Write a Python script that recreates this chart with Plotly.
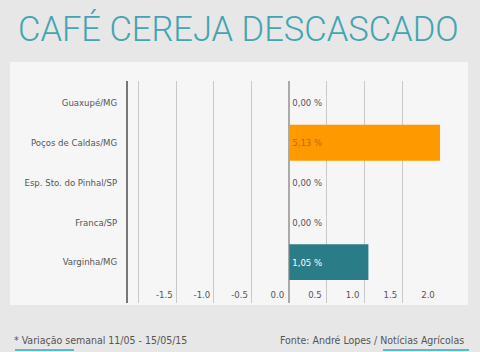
import plotly.graph_objects as go

cities = ["Guaxupé/MG", "Poços de Caldas/MG", "Esp. Sto. do Pinhal/SP", "Franca/SP", "Varginha/MG"]
values = [0.00, 5.13, 0.00, 0.00, 1.05]
labels = ["0,00 %", "5,13 %", "0,00 %", "0,00 %", "1,05 %"]
bar_colors = ["#ff9900", "#ff9900", "#ff9900", "#ff9900", "#2a7d87"]
text_colors = ["#555555", "#b86e10", "#555555", "#555555", "#ffffff"]
text_pos = ["outside", "inside", "outside", "outside", "inside"]
tick_vals = [-2.0, -1.5, -1.0, -0.5, 0.0, 0.5, 1.0, 1.5, 2.0]
tick_text = ["", "-1.5", "-1.0", "-0.5", "0.0", "0.5", "1.0", "1.5", "2.0"]

FONT = "DejaVu Sans Condensed, DejaVu Sans, sans-serif"

fig = go.Figure()
fig.add_trace(go.Bar(
    x=values, y=cities, orientation="h",
    marker=dict(color=bar_colors, line=dict(width=0)),
    width=0.9,
    text=labels, textposition=text_pos, insidetextanchor="start",
    textfont=dict(color=text_colors, size=9.5, family=FONT),
    outsidetextfont=dict(color=text_colors, size=9.5, family=FONT),
    insidetextfont=dict(color=text_colors, size=9.5, family=FONT),
    constraintext="none", cliponaxis=True, hoverinfo="skip",
))

fig.update_layout(
    width=480, height=352,
    margin=dict(l=128, r=40, t=81, b=49),
    paper_bgcolor="#e7e7e7",
    plot_bgcolor="rgba(0,0,0,0)",
    showlegend=False,
    font=dict(family=FONT, size=9.5, color="#555555"),
    xaxis=dict(
        range=[-2.14, 2.0], tickvals=tick_vals, ticktext=tick_text,
        showgrid=True, gridcolor="#c9c9c9", gridwidth=1,
        zeroline=True, zerolinecolor="#aaaaaa", zerolinewidth=2,
        ticklabelposition="inside", ticklabelshift=-12, ticks="",
        tickfont=dict(size=9.5, color="#555555", family=FONT),
        showline=False, fixedrange=True,
    ),
    yaxis=dict(
        type="category", categoryorder="array", categoryarray=cities,
        range=[5.03, -0.553], showgrid=False, zeroline=False,
        showline=True, linecolor="#777777", linewidth=2,
        ticks="", ticklabelstandoff=7,
        tickfont=dict(size=9.5, color="#555555", family=FONT),
        fixedrange=True,
    ),
    shapes=[
        dict(type="rect", xref="paper", yref="paper", layer="below",
             x0=(10 - 128) / 312, x1=(468 - 128) / 312,
             y0=(352 - 49 - 305) / 222, y1=(352 - 49 - 62) / 222,
             fillcolor="#f6f6f6", line=dict(width=0)),
        dict(type="rect", xref="paper", yref="paper", layer="above",
             x0=(15 - 128) / 312, x1=(74 - 128) / 312,
             y0=(303 - 351) / 222, y1=(303 - 349) / 222,
             fillcolor="#5fb8c2", line=dict(width=0)),
        dict(type="rect", xref="paper", yref="paper", layer="above",
             x0=(383 - 128) / 312, x1=(469 - 128) / 312,
             y0=(303 - 351) / 222, y1=(303 - 349) / 222,
             fillcolor="#5fb8c2", line=dict(width=0)),
    ],
    annotations=[
        dict(text="CAFÉ CEREJA DESCASCADO", xref="paper", yref="paper",
             x=(238 - 128) / 312, y=(303 - 29) / 222, xanchor="center", yanchor="middle",
             showarrow=False, font=dict(family="Roboto, sans-serif", weight=300,
                                        size=34.5, color="#42a5b1")),
        dict(text="* Variação semanal 11/05 - 15/05/15", xref="paper", yref="paper",
             x=(12 - 128) / 312, y=(303 - 340) / 222, xanchor="left", yanchor="middle",
             showarrow=False, font=dict(family=FONT, size=10.5, color="#555555")),
        dict(text="Fonte: André Lopes / Notícias Agrícolas", xref="paper", yref="paper",
             x=(466 - 128) / 312, y=(303 - 340) / 222, xanchor="right", yanchor="middle",
             showarrow=False, font=dict(family=FONT, size=10.5, color="#555555")),
    ],
)

fig.write_html("out.html")
